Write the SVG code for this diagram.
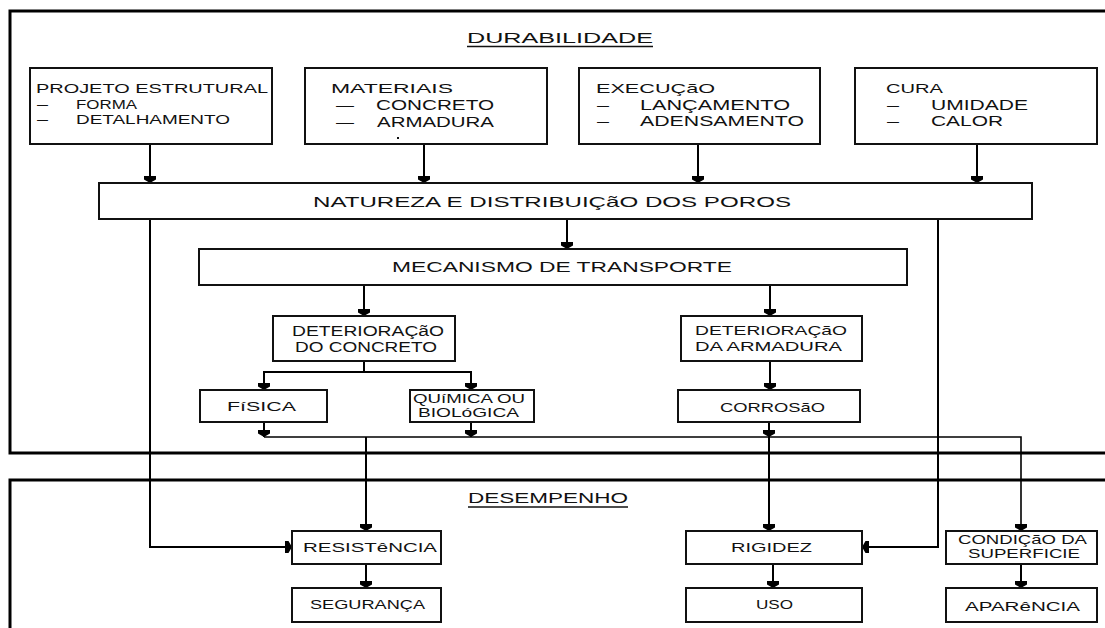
<svg xmlns="http://www.w3.org/2000/svg" width="1105" height="628" viewBox="0 0 1105 628">
<style>
.frame{fill:none;stroke:#000;stroke-width:3}
.box{fill:#fff;stroke:#111;stroke-width:2}
.c{fill:none;stroke:#000;stroke-width:2}
.t{font-family:"Liberation Sans",Arial,sans-serif;fill:#111}
.s12{font-size:12px}
.s13{font-size:13px}
.s14{font-size:14px}
.s15{font-size:15px}
.ul{stroke:#111;stroke-width:1.5}
</style>
<defs>
<marker id="ah" markerUnits="userSpaceOnUse" markerWidth="14" markerHeight="14" viewBox="-8 -7 9 14" refX="0" refY="0" orient="auto">
<path d="M-7,-6 L-3.5,-6 L0,0 L-3.5,6 L-7,6 Z" fill="#000"/>
</marker>
</defs>
<rect x="0" y="0" width="1105" height="628" fill="#fff"/>

<g id="frames">
<path class="frame" d="M1105,11 H10 V453 H1105"/>
<path class="frame" d="M1105,480 H10 V628"/>
</g>

<g id="titles">
<text class="t s15" x="467" y="43" textLength="186" lengthAdjust="spacingAndGlyphs">DURABILIDADE</text>
<line class="ul" x1="467" y1="46.5" x2="653" y2="46.5"/>
<text class="t s15" x="468" y="503" textLength="160" lengthAdjust="spacingAndGlyphs">DESEMPENHO</text>
<line class="ul" x1="468" y1="507" x2="628" y2="507"/>
</g>

<g id="connectors">
<line class="c" x1="150" y1="144" x2="150" y2="183" marker-end="url(#ah)"/>
<line class="c" x1="424" y1="144" x2="424" y2="183" marker-end="url(#ah)"/>
<line class="c" x1="698" y1="144" x2="698" y2="183" marker-end="url(#ah)"/>
<line class="c" x1="977" y1="144" x2="977" y2="183" marker-end="url(#ah)"/>
<line class="c" x1="567" y1="219" x2="567" y2="249" marker-end="url(#ah)"/>
<line class="c" x1="364" y1="285" x2="364" y2="316" marker-end="url(#ah)"/>
<line class="c" x1="770" y1="285" x2="770" y2="316" marker-end="url(#ah)"/>
<polyline class="c" points="364,361 364,372 264,372 264,390" marker-end="url(#ah)"/>
<polyline class="c" points="364,372 471,372 471,390" marker-end="url(#ah)"/>
<line class="c" x1="770" y1="361" x2="770" y2="390" marker-end="url(#ah)"/>
<line class="c" x1="264" y1="422" x2="264" y2="437" marker-end="url(#ah)"/>
<line class="c" x1="471" y1="422" x2="471" y2="437" marker-end="url(#ah)"/>
<line class="c" x1="769" y1="422" x2="769" y2="437" marker-end="url(#ah)"/>
<polyline class="c" points="264,437 1021,437 1021,531" marker-end="url(#ah)" style="stroke-width:1.6"/>
<line class="c" x1="366" y1="437" x2="366" y2="531" marker-end="url(#ah)"/>
<line class="c" x1="769" y1="437" x2="769" y2="531" marker-end="url(#ah)"/>
<polyline class="c" points="150,219 150,547 292,547" marker-end="url(#ah)"/>
<polyline class="c" points="938,219 938,547 862,547" marker-end="url(#ah)"/>
<line class="c" x1="366" y1="564" x2="366" y2="588" marker-end="url(#ah)"/>
<line class="c" x1="773" y1="564" x2="773" y2="588" marker-end="url(#ah)"/>
<line class="c" x1="1021" y1="564" x2="1021" y2="588" marker-end="url(#ah)"/>
</g>

<g id="n-projeto">
<rect class="box" x="30" y="68" width="242" height="76"/>
<text class="t s13" x="36" y="93" textLength="232" lengthAdjust="spacingAndGlyphs">PROJETO ESTRUTURAL</text>
<text class="t s13" x="37" y="109" textLength="11" lengthAdjust="spacingAndGlyphs">–</text>
<text class="t s13" x="76" y="109" textLength="61" lengthAdjust="spacingAndGlyphs">FORMA</text>
<text class="t s13" x="37" y="124" textLength="11" lengthAdjust="spacingAndGlyphs">–</text>
<text class="t s13" x="76" y="124" textLength="154" lengthAdjust="spacingAndGlyphs">DETALHAMENTO</text>
</g>

<g id="n-materiais">
<rect class="box" x="305" y="68" width="242" height="76"/>
<text class="t s13" x="331" y="93" textLength="122" lengthAdjust="spacingAndGlyphs">MATERIAIS</text>
<text class="t s15" x="336" y="110" textLength="18" lengthAdjust="spacingAndGlyphs">–</text>
<text class="t s15" x="376" y="110" textLength="118" lengthAdjust="spacingAndGlyphs">CONCRETO</text>
<text class="t s15" x="336" y="127" textLength="18" lengthAdjust="spacingAndGlyphs">–</text>
<text class="t s15" x="377" y="127" textLength="117" lengthAdjust="spacingAndGlyphs">ARMADURA</text>
<rect x="397" y="137" width="2" height="2" fill="#111"/>
</g>

<g id="n-execucao">
<rect class="box" x="579" y="68" width="241" height="76"/>
<text class="t s13" x="596" y="93" textLength="119" lengthAdjust="spacingAndGlyphs">EXECUÇãO</text>
<text class="t s14" x="597" y="110" textLength="12" lengthAdjust="spacingAndGlyphs">–</text>
<text class="t s14" x="640" y="110" textLength="150" lengthAdjust="spacingAndGlyphs">LANÇAMENTO</text>
<text class="t s14" x="597" y="126" textLength="12" lengthAdjust="spacingAndGlyphs">–</text>
<text class="t s14" x="640" y="126" textLength="164" lengthAdjust="spacingAndGlyphs">ADENSAMENTO</text>
</g>

<g id="n-cura">
<rect class="box" x="855" y="68" width="242" height="76"/>
<text class="t s13" x="886" y="93" textLength="57" lengthAdjust="spacingAndGlyphs">CURA</text>
<text class="t s14" x="887" y="110" textLength="12" lengthAdjust="spacingAndGlyphs">–</text>
<text class="t s14" x="931" y="110" textLength="97" lengthAdjust="spacingAndGlyphs">UMIDADE</text>
<text class="t s14" x="887" y="126" textLength="12" lengthAdjust="spacingAndGlyphs">–</text>
<text class="t s14" x="931" y="126" textLength="72" lengthAdjust="spacingAndGlyphs">CALOR</text>
</g>

<g id="n-natureza">
<rect class="box" x="99" y="183" width="933" height="36"/>
<text class="t s15" x="313" y="207" textLength="478" lengthAdjust="spacingAndGlyphs">NATUREZA E DISTRIBUIÇãO DOS POROS</text>
</g>

<g id="n-mecanismo">
<rect class="box" x="199" y="249" width="708" height="36"/>
<text class="t s14" x="392" y="272" textLength="340" lengthAdjust="spacingAndGlyphs">MECANISMO DE TRANSPORTE</text>
</g>

<g id="n-det-concreto">
<rect class="box" x="273" y="316" width="182" height="45"/>
<text class="t s14" x="292" y="336" textLength="152" lengthAdjust="spacingAndGlyphs">DETERIORAÇãO</text>
<text class="t s14" x="295" y="352" textLength="142" lengthAdjust="spacingAndGlyphs">DO CONCRETO</text>
</g>

<g id="n-det-armadura">
<rect class="box" x="681" y="316" width="181" height="45"/>
<text class="t s13" x="695" y="335" textLength="152" lengthAdjust="spacingAndGlyphs">DETERIORAÇãO</text>
<text class="t s13" x="695" y="351" textLength="147" lengthAdjust="spacingAndGlyphs">DA ARMADURA</text>
</g>

<g id="n-fisica">
<rect class="box" x="200" y="390" width="127" height="32"/>
<text class="t s13" x="227" y="411" textLength="69" lengthAdjust="spacingAndGlyphs">FíSICA</text>
</g>

<g id="n-quimica">
<rect class="box" x="410" y="390" width="124" height="32"/>
<text class="t s12" x="413" y="403" textLength="112" lengthAdjust="spacingAndGlyphs">QUíMICA OU</text>
<text class="t s12" x="418" y="417" textLength="101" lengthAdjust="spacingAndGlyphs">BIOLóGICA</text>
</g>

<g id="n-corrosao">
<rect class="box" x="678" y="390" width="182" height="32"/>
<text class="t s13" x="720" y="412" textLength="105" lengthAdjust="spacingAndGlyphs">CORROSãO</text>
</g>

<g id="n-resistencia">
<rect class="box" x="292" y="531" width="149" height="33"/>
<text class="t s13" x="303" y="552" textLength="134" lengthAdjust="spacingAndGlyphs">RESISTêNCIA</text>
</g>

<g id="n-seguranca">
<rect class="box" x="292" y="588" width="149" height="34"/>
<text class="t s13" x="310" y="609" textLength="115" lengthAdjust="spacingAndGlyphs">SEGURANÇA</text>
</g>

<g id="n-rigidez">
<rect class="box" x="686" y="531" width="176" height="33"/>
<text class="t s13" x="731" y="552" textLength="81" lengthAdjust="spacingAndGlyphs">RIGIDEZ</text>
</g>

<g id="n-uso">
<rect class="box" x="686" y="588" width="176" height="34"/>
<text class="t s13" x="756" y="609" textLength="37" lengthAdjust="spacingAndGlyphs">USO</text>
</g>

<g id="n-condicao">
<rect class="box" x="946" y="531" width="151" height="33"/>
<text class="t s12" x="958" y="544" textLength="129" lengthAdjust="spacingAndGlyphs">CONDIÇãO DA</text>
<text class="t s12" x="968" y="558" textLength="112" lengthAdjust="spacingAndGlyphs">SUPERFICIE</text>
</g>

<g id="n-aparencia">
<rect class="box" x="946" y="588" width="151" height="34"/>
<text class="t s13" x="965" y="611" textLength="115" lengthAdjust="spacingAndGlyphs">APARêNCIA</text>
</g>
</svg>
